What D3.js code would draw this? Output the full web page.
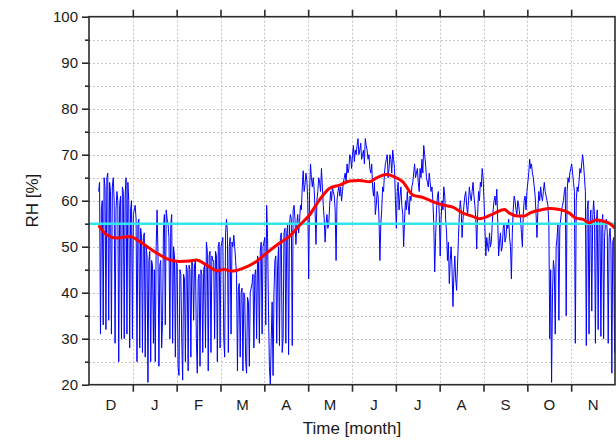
<!DOCTYPE html>
<html>
<head>
<meta charset="utf-8">
<script src="https://cdn.jsdelivr.net/npm/d3@7"></script>
<style>
  html, body { margin: 0; padding: 0; background: #fff; }
  svg { display: block; font-family: Arial, "Liberation Sans", sans-serif; }
</style>
</head>
<body>
<svg id="chart" width="616" height="441"></svg>
<script>
// Month labels (centred in each month band), Dec .. Nov
const months = ["D", "J", "F", "M", "A", "M", "J", "J", "A", "S", "O", "N"];
const yMajorTicks = [20, 30, 40, 50, 60, 70, 80, 90, 100];
const yMinorTicks = [25, 35, 45, 55, 65, 75, 85, 95];

// Measured relative humidity, sampled every 1/48 month starting at month 0.22
const rhStart = 0.22;
const rhStep = 1 / 48;
const rhMeasured = [
  62, 64, 31, 58, 60, 33, 65, 63, 32, 65, 66, 34, 64, 62, 31, 63, 65, 60, 29, 58, 62, 60, 25, 59,
  61, 30, 63, 62, 30, 61, 65, 31, 64, 60, 28, 58, 60, 30, 57, 58, 59, 56, 25, 55, 56, 28, 54, 52,
  27, 52, 53, 26, 50, 48, 20.5, 47, 49, 25, 47, 46, 29, 45, 25, 50, 58, 48, 24, 46, 47, 28, 34, 54,
  57, 33, 58, 56, 55, 52, 30, 55, 57, 29, 50, 48, 26, 47, 46, 24, 22, 45, 44, 30, 21, 44, 43, 25,
  46, 45, 23, 46, 45, 26, 47, 46, 34, 46, 47, 30, 22.5, 43, 44, 24, 45, 44, 27, 45, 46, 28, 51, 49,
  23, 48, 49, 27, 48, 47, 47, 30, 49, 48, 25, 50, 51, 28, 50, 51, 52, 30, 26, 53, 56, 53, 27, 50,
  52, 31, 51, 50, 52.5, 50, 47, 44, 23, 41, 42, 26, 40, 41, 23, 40, 39, 25, 22.5, 39, 38, 24, 40, 41,
  42, 44, 28, 44, 45, 30, 48, 47, 29, 49, 51, 31, 50, 51, 52, 33, 59, 52, 36, 24, 20, 30, 38, 22,
  40, 47, 48, 29, 46, 50, 28.5, 52, 53, 27, 30, 53, 54, 29, 53, 55, 26.5, 55, 57, 56, 28.5, 58, 59, 56,
  50.5, 55, 57, 53, 55.5, 59, 58, 63, 66.5, 62, 63.5, 66, 64.5, 60, 43, 62, 68, 65, 63, 65, 62.5, 58, 50.5, 60,
  62, 65, 64, 62, 67, 63, 59, 56, 51, 55, 57, 54, 55, 59, 62, 60, 63, 62, 61, 58, 47, 60, 62, 63,
  61, 63, 60, 62, 64, 65, 66, 64, 68, 66, 67, 70, 69.5, 67, 70, 72, 68.5, 71, 70, 72, 73.5, 70, 71, 72.5,
  69, 70, 71, 68, 73.5, 72, 71, 69, 70, 67, 66, 68, 63, 61, 64, 57, 59, 62, 61, 56, 47, 55, 58, 63,
  62, 66, 68, 69, 70, 65, 67, 70, 69, 66, 71, 69, 67, 60, 54, 62, 64, 58, 61, 63, 59, 57, 50, 56,
  60, 58, 62, 59, 57, 61, 60, 63, 64, 66, 68, 65, 66, 67, 64, 62, 67, 65, 69, 66, 72, 70, 68, 65,
  64, 63, 66, 64, 62, 63, 60, 55, 44.5, 52, 58, 61, 62, 57, 48, 56, 60, 58, 63, 61, 56, 53, 47, 51,
  42, 47, 50, 45, 37, 44, 48, 43, 40.5, 46, 52, 57, 60, 58, 52, 56, 59, 61, 62, 59, 57, 60, 63, 61,
  60, 62, 64, 61, 59, 56, 49.5, 57, 62, 60, 64, 63, 67, 65, 60, 54, 48, 52, 50, 49, 53, 50, 51, 55,
  58, 60, 61, 59, 62.5, 56, 48, 51, 53, 49, 50, 54, 55, 51, 52, 55, 54, 56, 52, 50, 43, 53, 58, 61,
  60, 58, 57, 60, 59, 57, 56, 53, 50, 57, 60, 61, 58, 62, 64, 66, 69, 67, 68, 66, 65, 63, 61, 57,
  52, 58, 62, 60, 63, 61, 60, 62, 64, 62, 61, 60, 59, 55, 30, 45, 20.5, 40, 47, 45, 31, 50, 52, 55,
  34, 54, 56, 58, 59, 60, 62, 63, 35, 62, 65, 64, 66, 67, 68, 66, 64, 62, 29, 60, 63, 62, 64, 67,
  66, 68, 70, 68, 65, 62, 28.5, 58, 60, 31, 55, 58, 36, 56, 60, 57, 29, 55, 58, 32, 55, 56, 30.5, 54,
  57, 30, 52, 55, 56, 53, 29, 52, 54, 50, 22.5, 51, 52, 27, 54
];

// Smoothed trend (month position, RH)
const trendMonth = [0.235, 0.40, 0.63, 0.93, 1.16, 1.39, 1.62, 1.85, 2.07, 2.30, 2.45, 2.68, 2.95, 3.06, 3.25, 3.51, 3.82, 4.05, 4.35, 4.58, 4.81, 5.03, 5.26, 5.49, 5.72, 5.95, 6.17, 6.40, 6.55, 6.78, 6.97, 7.16, 7.39, 7.62, 7.84, 8.07, 8.30, 8.53, 8.75, 8.91, 9.17, 9.48, 9.59, 9.78, 9.93, 10.08, 10.31, 10.50, 10.73, 10.96, 11.11, 11.26, 11.41, 11.56, 11.72, 11.87, 11.98];
const trendRH = [54.4, 52.6, 51.9, 52.2, 51.1, 49.6, 48.2, 47.1, 46.8, 46.9, 47.1, 46.0, 44.7, 45.1, 44.7, 45.3, 46.8, 48.6, 50.8, 52.3, 54.7, 56.9, 60.2, 62.7, 63.4, 64.3, 64.4, 64.1, 64.9, 65.7, 65.2, 64.1, 61.2, 60.7, 59.8, 59.1, 58.6, 57.3, 56.6, 56.1, 56.9, 58.1, 57.3, 56.7, 56.7, 57.4, 58.0, 58.3, 58.1, 57.3, 56.2, 56.0, 55.2, 55.8, 55.6, 55.1, 54.2];

// Reference humidity level
const referenceRH = 55;

const svg = d3.select("#chart");
const plot = { left: 89, right: 615, top: 16.7, bottom: 384.7 };

const x = d3.scaleLinear().domain([0, 12]).range([plot.left, plot.right]);
const y = d3.scaleLinear().domain([20, 100]).range([plot.bottom, plot.top]);

const axisColor = "#2b2b2b";
const textColor = "#1a1a1a";

svg.append("defs").append("clipPath").attr("id", "plotClip")
  .append("rect")
  .attr("x", plot.left).attr("y", plot.top)
  .attr("width", plot.right - plot.left).attr("height", plot.bottom - plot.top);

// Dotted grid
const grid = svg.append("g").attr("stroke", "#c4c4c4").attr("stroke-width", 1).attr("stroke-dasharray", "2,2");
grid.selectAll("line.h").data(d3.range(25, 100, 5)).join("line")
  .attr("x1", plot.left).attr("x2", plot.right)
  .attr("y1", d => Math.round(y(d)) + 0.5).attr("y2", d => Math.round(y(d)) + 0.5);
grid.selectAll("line.v").data(d3.range(1, 12)).join("line")
  .attr("y1", plot.top).attr("y2", plot.bottom)
  .attr("x1", d => Math.round(x(d)) + 0.5).attr("x2", d => Math.round(x(d)) + 0.5);

const plotArea = svg.append("g").attr("clip-path", "url(#plotClip)");

// Measured series
const measured = rhMeasured.map((v, i) => [rhStart + i * rhStep, v]);
plotArea.append("path")
  .datum(measured)
  .attr("fill", "none")
  .attr("stroke", "#0000ff")
  .attr("stroke-width", 1)
  .attr("stroke-linejoin", "round")
  .attr("d", d3.line().x(d => x(d[0])).y(d => y(d[1])));

// Reference level
plotArea.append("line")
  .attr("x1", plot.left).attr("x2", plot.right)
  .attr("y1", y(referenceRH)).attr("y2", y(referenceRH))
  .attr("stroke", "#2ee6ee").attr("stroke-width", 2.4);

// Smoothed trend
const trend = trendMonth.map((t, i) => [t, trendRH[i]]);
plotArea.append("path")
  .datum(trend)
  .attr("fill", "none")
  .attr("stroke", "#ff0000")
  .attr("stroke-width", 3)
  .attr("stroke-linejoin", "round")
  .attr("stroke-linecap", "round")
  .attr("d", d3.line().curve(d3.curveMonotoneX).x(d => x(d[0])).y(d => y(d[1])));

// Frame
svg.append("rect")
  .attr("x", plot.left).attr("y", plot.top)
  .attr("width", plot.right - plot.left).attr("height", plot.bottom - plot.top)
  .attr("fill", "none").attr("stroke", axisColor).attr("stroke-width", 1.6);

// Left axis: major + minor ticks
const yAxis = d3.axisLeft(y).tickValues(yMajorTicks).tickSize(7).tickPadding(4).tickFormat(d3.format("d"));
const gy = svg.append("g").attr("transform", `translate(${plot.left},0)`).call(yAxis);
gy.select(".domain").remove();
gy.selectAll(".tick line").attr("stroke", axisColor).attr("stroke-width", 1.6);
gy.selectAll(".tick text").attr("fill", textColor).style("font-size", "15px");
svg.append("g").attr("transform", `translate(${plot.left},0)`)
  .call(d3.axisLeft(y).tickValues(yMinorTicks).tickSize(4).tickFormat(""))
  .call(g => g.select(".domain").remove())
  .selectAll(".tick line").attr("stroke", axisColor).attr("stroke-width", 1.6);

// Bottom axis: ticks at month boundaries, labels centred in each month
const gx = svg.append("g").attr("transform", `translate(0,${plot.bottom})`)
  .call(d3.axisBottom(x).tickValues(d3.range(1, 12)).tickSize(7).tickFormat(""));
gx.select(".domain").remove();
gx.selectAll(".tick line").attr("stroke", axisColor).attr("stroke-width", 1.6);
svg.append("g").selectAll("text").data(months).join("text")
  .attr("x", (d, i) => x(i + 0.5))
  .attr("y", 410)
  .attr("text-anchor", "middle")
  .attr("fill", textColor)
  .style("font-size", "15px")
  .text(d => d);

// Top axis ticks
const gt = svg.append("g").attr("transform", `translate(0,${plot.top})`)
  .call(d3.axisTop(x).tickValues(d3.range(1, 12)).tickSize(7).tickFormat(""));
gt.select(".domain").remove();
gt.selectAll(".tick line").attr("stroke", axisColor).attr("stroke-width", 1.6);

// Axis titles
svg.append("text")
  .attr("x", 352).attr("y", 434)
  .attr("text-anchor", "middle")
  .attr("fill", textColor)
  .style("font-size", "17px")
  .text("Time [month]");
svg.append("text")
  .attr("transform", `translate(38,${(plot.top + plot.bottom) / 2}) rotate(-90)`)
  .attr("text-anchor", "middle")
  .attr("fill", textColor)
  .style("font-size", "17px")
  .text("RH [%]");
</script>
</body>
</html>
